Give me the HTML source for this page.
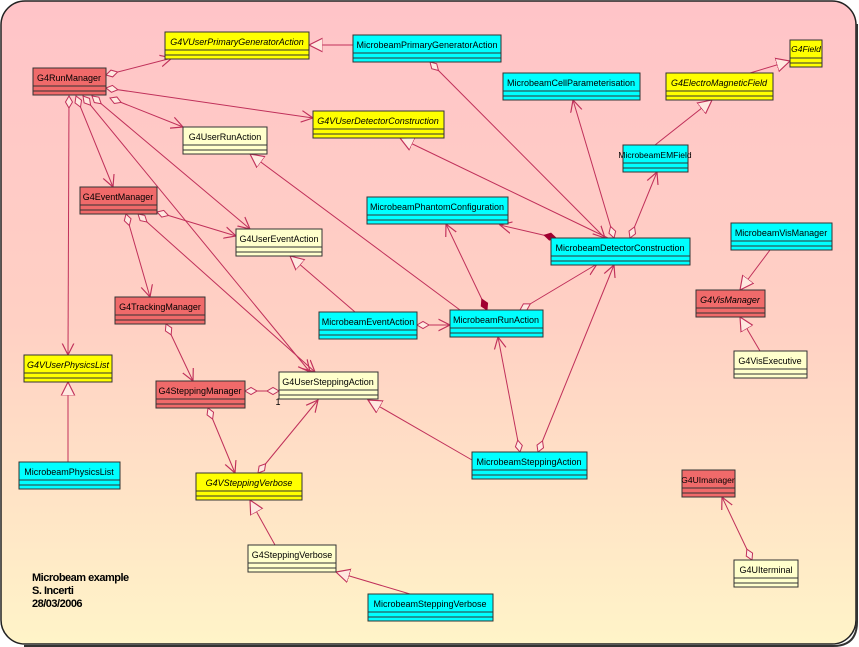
<!DOCTYPE html>
<html><head><style>
html,body{margin:0;padding:0;background:#fff;}
svg{display:block;}
text{font-family:"Liberation Sans",sans-serif;font-size:9px;fill:#000;text-anchor:middle;}
</style></head><body>
<svg width="859" height="647" viewBox="0 0 859 647" xmlns="http://www.w3.org/2000/svg">
<defs>
<linearGradient id="bg" x1="0" y1="0" x2="0" y2="1">
<stop offset="0" stop-color="#ffc4c8"/>
<stop offset="0.5" stop-color="#ffd0c4"/>
<stop offset="1" stop-color="#fff4c8"/>
</linearGradient>
<marker id="ar" markerUnits="userSpaceOnUse" markerWidth="14" markerHeight="14" refX="10" refY="5" orient="auto" viewBox="0 0 12 10">
<path d="M0,0 L10,5 L0,10" fill="none" stroke="#c0305a" stroke-width="1"/></marker>
<marker id="tri" markerUnits="userSpaceOnUse" markerWidth="16" markerHeight="16" refX="12" refY="6" orient="auto" viewBox="0 0 14 12">
<path d="M0,0 L12,6 L0,12 Z" fill="#ffe8e0" stroke="#c0305a" stroke-width="1"/></marker>
<marker id="dia" markerUnits="userSpaceOnUse" markerWidth="16" markerHeight="10" refX="1" refY="4" orient="auto" viewBox="0 0 16 8">
<path d="M1,4 L7,0.5 L13,4 L7,7.5 Z" fill="#ffe8e0" stroke="#c0305a" stroke-width="1"/></marker>
<marker id="fdia" markerUnits="userSpaceOnUse" markerWidth="16" markerHeight="10" refX="1" refY="4" orient="auto" viewBox="0 0 16 8">
<path d="M1,4 L7,0.5 L13,4 L7,7.5 Z" fill="#a00030" stroke="#a00030" stroke-width="1"/></marker>
</defs>
<rect x="1" y="1" width="855" height="643" rx="24" fill="url(#bg)" stroke="#222" stroke-width="1.5"/>
<path d="M857,24 L857,622 Q857,646 833,646 L24,646" fill="none" stroke="#333" stroke-width="2"/>

<g stroke="#c0305a" stroke-width="1" fill="none">
<line x1="106" y1="75" x2="172" y2="58" marker-start="url(#dia)" marker-end="url(#ar)"/>
<line x1="353" y1="45" x2="309" y2="45" marker-end="url(#tri)"/>
<line x1="106" y1="88" x2="313" y2="118" marker-start="url(#dia)" marker-end="url(#ar)"/>
<line x1="110" y1="98" x2="183" y2="127" marker-start="url(#dia)" marker-end="url(#ar)"/>
<line x1="76" y1="96" x2="113" y2="187" marker-start="url(#dia)" marker-end="url(#ar)"/>
<line x1="69" y1="96" x2="68" y2="355" marker-start="url(#dia)" marker-end="url(#ar)"/>
<line x1="83" y1="96" x2="310" y2="372" marker-start="url(#dia)" marker-end="url(#ar)"/>
<line x1="92" y1="96" x2="250" y2="229" marker-start="url(#dia)" marker-end="url(#ar)"/>
<line x1="157" y1="212" x2="236" y2="236" marker-start="url(#dia)" marker-end="url(#ar)"/>
<line x1="126" y1="214" x2="150" y2="297" marker-start="url(#dia)" marker-end="url(#ar)"/>
<line x1="138" y1="214" x2="315" y2="372" marker-start="url(#dia)" marker-end="url(#ar)"/>
<line x1="166" y1="324" x2="193" y2="381" marker-start="url(#dia)" marker-end="url(#ar)"/>
<line x1="245" y1="391" x2="262" y2="391" marker-start="url(#dia)"/>
<line x1="279" y1="391" x2="262" y2="391" marker-start="url(#dia)"/>
<line x1="208" y1="408" x2="235" y2="473" marker-start="url(#dia)" marker-end="url(#ar)"/>
<line x1="258" y1="473" x2="318" y2="400" marker-start="url(#dia)" marker-end="url(#ar)"/>
<line x1="68" y1="462" x2="68" y2="382" marker-end="url(#tri)"/>
<line x1="275" y1="545" x2="250" y2="500" marker-end="url(#tri)"/>
<line x1="410" y1="594" x2="336" y2="572" marker-end="url(#tri)"/>
<line x1="472" y1="460" x2="368" y2="400" marker-end="url(#tri)"/>
<line x1="520" y1="452" x2="498" y2="337" marker-start="url(#dia)" marker-end="url(#ar)"/>
<line x1="538" y1="452" x2="614" y2="265" marker-start="url(#dia)" marker-end="url(#ar)"/>
<line x1="417" y1="325" x2="450" y2="325" marker-start="url(#dia)" marker-end="url(#ar)"/>
<line x1="355" y1="312" x2="290" y2="256" marker-end="url(#tri)"/>
<line x1="460" y1="310" x2="250" y2="154" marker-end="url(#tri)"/>
<line x1="487" y1="310" x2="446" y2="224" marker-start="url(#fdia)" marker-end="url(#ar)"/>
<line x1="520" y1="310" x2="597" y2="264" marker-start="url(#dia)" marker-end="url(#ar)"/>
<line x1="556" y1="238" x2="500" y2="225" marker-start="url(#fdia)" marker-end="url(#ar)"/>
<line x1="608" y1="238" x2="400" y2="138" marker-end="url(#tri)"/>
<line x1="614" y1="238" x2="573" y2="100" marker-start="url(#dia)" marker-end="url(#ar)"/>
<line x1="630" y1="238" x2="657" y2="172" marker-start="url(#dia)" marker-end="url(#ar)"/>
<line x1="430" y1="62" x2="605" y2="238" marker-start="url(#dia)" marker-end="url(#ar)"/>
<line x1="655" y1="145" x2="712" y2="100" marker-end="url(#tri)"/>
<line x1="750" y1="73" x2="790" y2="61" marker-end="url(#tri)"/>
<line x1="770" y1="250" x2="740" y2="290" marker-end="url(#tri)"/>
<line x1="760" y1="351" x2="740" y2="317" marker-end="url(#tri)"/>
<line x1="752" y1="560" x2="722" y2="497" marker-start="url(#dia)" marker-end="url(#ar)"/>
</g>
<text x="278" y="405">1</text>

<g stroke="#333" stroke-width="1">
<g fill="#ffff00">
<rect x="165" y="32" width="144" height="27"/><rect x="790" y="40" width="32" height="27"/>
<rect x="666" y="73" width="107" height="27"/><rect x="313" y="111" width="131" height="27"/>
<rect x="24" y="355" width="88" height="27"/><rect x="196" y="473" width="106" height="27"/>
</g>
<g fill="#00ffff">
<rect x="353" y="35" width="148" height="27"/><rect x="503" y="73" width="137" height="27"/>
<rect x="623" y="145" width="65" height="27"/><rect x="367" y="197" width="141" height="27"/>
<rect x="551" y="238" width="139" height="27"/><rect x="731" y="223" width="101" height="27"/>
<rect x="319" y="312" width="98" height="27"/><rect x="450" y="310" width="93" height="27"/>
<rect x="472" y="452" width="115" height="27"/><rect x="19" y="462" width="101" height="27"/>
<rect x="368" y="594" width="125" height="27"/>
</g>
<g fill="#f06a6a">
<rect x="33" y="68" width="73" height="27"/><rect x="80" y="187" width="77" height="27"/>
<rect x="696" y="290" width="69" height="27"/><rect x="115" y="297" width="90" height="27"/>
<rect x="156" y="381" width="89" height="27"/><rect x="682" y="470" width="53" height="27"/>
</g>
<g fill="#ffffcc">
<rect x="183" y="127" width="84" height="27"/><rect x="236" y="229" width="86" height="27"/>
<rect x="734" y="351" width="73" height="27"/><rect x="279" y="372" width="99" height="27"/>
<rect x="248" y="545" width="88" height="27"/><rect x="734" y="560" width="64" height="27"/>
</g>
</g>
<g stroke="#333" stroke-width="1">
<path d="M165,50h144M165,55h144 M790,58h32M790,63h32 M666,91h107M666,96h107 M313,129h131M313,134h131 M24,373h88M24,378h88 M196,491h106M196,496h106
M353,53h148M353,58h148 M503,91h137M503,96h137 M623,163h65M623,168h65 M367,215h141M367,220h141 M551,256h139M551,261h139 M731,241h101M731,246h101
M319,330h98M319,335h98 M450,328h93M450,333h93 M472,470h115M472,475h115 M19,480h101M19,485h101 M368,612h125M368,617h125
M33,86h73M33,91h73 M80,205h77M80,210h77 M696,308h69M696,313h69 M115,315h90M115,320h90 M156,399h89M156,404h89 M682,488h53M682,493h53
M183,145h84M183,150h84 M236,247h86M236,252h86 M734,369h73M734,374h73 M279,390h99M279,395h99 M248,563h88M248,568h88 M734,578h64M734,583h64"/>
</g>
<g font-style="italic">
<text x="237" y="45">G4VUserPrimaryGeneratorAction</text>
<text x="806" y="52" style="font-size:8.5px">G4Field</text>
<text x="719" y="86">G4ElectroMagneticField</text>
<text x="378" y="124">G4VUserDetectorConstruction</text>
<text x="68" y="368">G4VUserPhysicsList</text>
<text x="249" y="486">G4VSteppingVerbose</text>
<text x="730" y="303">G4VisManager</text>
</g>
<text x="427" y="48">MicrobeamPrimaryGeneratorAction</text>
<text x="571" y="86">MicrobeamCellParameterisation</text>
<text x="655" y="158" style="font-size:8.5px">MicrobeamEMField</text>
<text x="437" y="210">MicrobeamPhantomConfiguration</text>
<text x="620" y="251">MicrobeamDetectorConstruction</text>
<text x="781" y="236">MicrobeamVisManager</text>
<text x="368" y="325">MicrobeamEventAction</text>
<text x="496" y="323">MicrobeamRunAction</text>
<text x="529" y="465">MicrobeamSteppingAction</text>
<text x="69" y="475">MicrobeamPhysicsList</text>
<text x="430" y="607">MicrobeamSteppingVerbose</text>
<text x="69" y="81">G4RunManager</text>
<text x="118" y="200">G4EventManager</text>
<text x="160" y="310">G4TrackingManager</text>
<text x="200" y="394">G4SteppingManager</text>
<text x="708" y="483" style="font-size:8.5px">G4UImanager</text>
<text x="225" y="140">G4UserRunAction</text>
<text x="279" y="242">G4UserEventAction</text>
<text x="770" y="364">G4VisExecutive</text>
<text x="328" y="385">G4UserSteppingAction</text>
<text x="292" y="558">G4SteppingVerbose</text>
<text x="766" y="573">G4UIterminal</text>
<text x="32" y="581" style="text-anchor:start;font-size:11px;font-weight:bold;letter-spacing:-0.5px">Microbeam example</text>
<text x="32" y="594" style="text-anchor:start;font-size:11px;font-weight:bold;letter-spacing:-0.5px">S. Incerti</text>
<text x="32" y="607" style="text-anchor:start;font-size:11px;font-weight:bold;letter-spacing:-0.5px">28/03/2006</text>
</svg>
</body></html>
